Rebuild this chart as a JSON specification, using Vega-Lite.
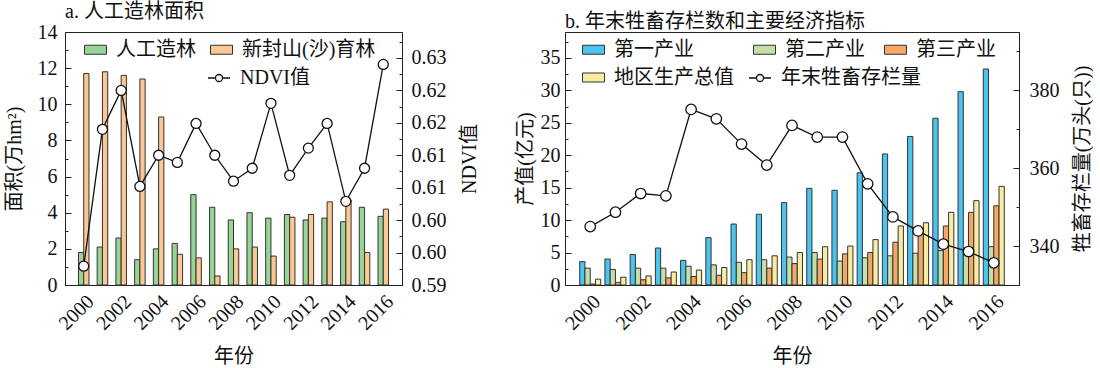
{
  "$schema": "https://vega.github.io/schema/vega-lite/v6.json",
  "background": "white",
  "padding": {"left": 3, "top": 1, "right": 0, "bottom": 0},
  "bounds": "flush",
  "spacing": 163,
  "resolve": {"scale": {"fill": "independent", "stroke": "independent", "xOffset": "independent", "x": "independent", "y": "independent"}},
  "config": {
    "font": "Liberation Serif, Noto Sans CJK SC",
    "view": {"stroke": "#222", "strokeWidth": 1},
    "axis": {
      "labelFont": "Liberation Serif, Noto Sans CJK SC",
      "labelFontSize": 20,
      "labelColor": "#111",
      "titleFont": "Liberation Serif, Noto Sans CJK SC",
      "titleFontSize": 20,
      "titleFontWeight": "normal",
      "titleColor": "#111",
      "domainColor": "#222",
      "tickColor": "#222",
      "grid": false,
      "labelOverlap": false
    },
    "legend": {
      "labelFont": "Liberation Serif, Noto Sans CJK SC",
      "labelFontSize": 20,
      "labelColor": "#111",
      "labelLimit": 300
    },
    "title": {
      "font": "Liberation Serif, Noto Sans CJK SC",
      "fontSize": 20,
      "fontWeight": "normal",
      "anchor": "start",
      "frame": "group",
      "color": "#111"
    }
  },
  "datasets": {
    "forest": [
      {"year": 2000, "type": "人工造林", "value": 1.8}, {"year": 2000, "type": "新封山(沙)育林", "value": 11.7},
      {"year": 2001, "type": "人工造林", "value": 2.1}, {"year": 2001, "type": "新封山(沙)育林", "value": 11.8},
      {"year": 2002, "type": "人工造林", "value": 2.6}, {"year": 2002, "type": "新封山(沙)育林", "value": 11.6},
      {"year": 2003, "type": "人工造林", "value": 1.4}, {"year": 2003, "type": "新封山(沙)育林", "value": 11.4},
      {"year": 2004, "type": "人工造林", "value": 2.0}, {"year": 2004, "type": "新封山(沙)育林", "value": 9.3},
      {"year": 2005, "type": "人工造林", "value": 2.3}, {"year": 2005, "type": "新封山(沙)育林", "value": 1.7},
      {"year": 2006, "type": "人工造林", "value": 5.0}, {"year": 2006, "type": "新封山(沙)育林", "value": 1.5},
      {"year": 2007, "type": "人工造林", "value": 4.3}, {"year": 2007, "type": "新封山(沙)育林", "value": 0.5},
      {"year": 2008, "type": "人工造林", "value": 3.6}, {"year": 2008, "type": "新封山(沙)育林", "value": 2.0},
      {"year": 2009, "type": "人工造林", "value": 4.0}, {"year": 2009, "type": "新封山(沙)育林", "value": 2.1},
      {"year": 2010, "type": "人工造林", "value": 3.7}, {"year": 2010, "type": "新封山(沙)育林", "value": 1.6},
      {"year": 2011, "type": "人工造林", "value": 3.9}, {"year": 2011, "type": "新封山(沙)育林", "value": 3.75},
      {"year": 2012, "type": "人工造林", "value": 3.6}, {"year": 2012, "type": "新封山(沙)育林", "value": 3.9},
      {"year": 2013, "type": "人工造林", "value": 3.7}, {"year": 2013, "type": "新封山(沙)育林", "value": 4.6},
      {"year": 2014, "type": "人工造林", "value": 3.5}, {"year": 2014, "type": "新封山(沙)育林", "value": 4.7},
      {"year": 2015, "type": "人工造林", "value": 4.3}, {"year": 2015, "type": "新封山(沙)育林", "value": 1.8},
      {"year": 2016, "type": "人工造林", "value": 3.8}, {"year": 2016, "type": "新封山(沙)育林", "value": 4.2}
    ],
    "ndvi": [
      {"year": 2000, "ndvi": 0.5929}, {"year": 2001, "ndvi": 0.6140}, {"year": 2002, "ndvi": 0.6200},
      {"year": 2003, "ndvi": 0.6052}, {"year": 2004, "ndvi": 0.6100}, {"year": 2005, "ndvi": 0.6089},
      {"year": 2006, "ndvi": 0.6149}, {"year": 2007, "ndvi": 0.6100}, {"year": 2008, "ndvi": 0.6060},
      {"year": 2009, "ndvi": 0.6080}, {"year": 2010, "ndvi": 0.6180}, {"year": 2011, "ndvi": 0.6069},
      {"year": 2012, "ndvi": 0.6111}, {"year": 2013, "ndvi": 0.6149}, {"year": 2014, "ndvi": 0.6029},
      {"year": 2015, "ndvi": 0.6080}, {"year": 2016, "ndvi": 0.6240}
    ],
    "econ": [
      {"year": 2000, "type": "第一产业", "value": 3.6}, {"year": 2000, "type": "第二产业", "value": 2.6}, {"year": 2000, "type": "第三产业", "value": 0.15}, {"year": 2000, "type": "地区生产总值", "value": 0.9},
      {"year": 2001, "type": "第一产业", "value": 4.0}, {"year": 2001, "type": "第二产业", "value": 2.4}, {"year": 2001, "type": "第三产业", "value": 0.4}, {"year": 2001, "type": "地区生产总值", "value": 1.2},
      {"year": 2002, "type": "第一产业", "value": 4.7}, {"year": 2002, "type": "第二产业", "value": 2.6}, {"year": 2002, "type": "第三产业", "value": 0.8}, {"year": 2002, "type": "地区生产总值", "value": 1.4},
      {"year": 2003, "type": "第一产业", "value": 5.7}, {"year": 2003, "type": "第二产业", "value": 2.6}, {"year": 2003, "type": "第三产业", "value": 1.1}, {"year": 2003, "type": "地区生产总值", "value": 2.0},
      {"year": 2004, "type": "第一产业", "value": 3.8}, {"year": 2004, "type": "第二产业", "value": 2.9}, {"year": 2004, "type": "第三产业", "value": 1.3}, {"year": 2004, "type": "地区生产总值", "value": 2.3},
      {"year": 2005, "type": "第一产业", "value": 7.3}, {"year": 2005, "type": "第二产业", "value": 3.1}, {"year": 2005, "type": "第三产业", "value": 1.5}, {"year": 2005, "type": "地区生产总值", "value": 2.7},
      {"year": 2006, "type": "第一产业", "value": 9.4}, {"year": 2006, "type": "第二产业", "value": 3.5}, {"year": 2006, "type": "第三产业", "value": 1.9}, {"year": 2006, "type": "地区生产总值", "value": 3.9},
      {"year": 2007, "type": "第一产业", "value": 10.9}, {"year": 2007, "type": "第二产业", "value": 3.9}, {"year": 2007, "type": "第三产业", "value": 2.6}, {"year": 2007, "type": "地区生产总值", "value": 4.5},
      {"year": 2008, "type": "第一产业", "value": 12.7}, {"year": 2008, "type": "第二产业", "value": 4.3}, {"year": 2008, "type": "第三产业", "value": 3.3}, {"year": 2008, "type": "地区生产总值", "value": 5.0},
      {"year": 2009, "type": "第一产业", "value": 14.9}, {"year": 2009, "type": "第二产业", "value": 5.0}, {"year": 2009, "type": "第三产业", "value": 4.0}, {"year": 2009, "type": "地区生产总值", "value": 5.9},
      {"year": 2010, "type": "第一产业", "value": 14.6}, {"year": 2010, "type": "第二产业", "value": 3.7}, {"year": 2010, "type": "第三产业", "value": 4.8}, {"year": 2010, "type": "地区生产总值", "value": 6.0},
      {"year": 2011, "type": "第一产业", "value": 17.3}, {"year": 2011, "type": "第二产业", "value": 4.2}, {"year": 2011, "type": "第三产业", "value": 5.0}, {"year": 2011, "type": "地区生产总值", "value": 7.0},
      {"year": 2012, "type": "第一产业", "value": 20.2}, {"year": 2012, "type": "第二产业", "value": 4.5}, {"year": 2012, "type": "第三产业", "value": 6.6}, {"year": 2012, "type": "地区生产总值", "value": 9.1},
      {"year": 2013, "type": "第一产业", "value": 22.9}, {"year": 2013, "type": "第二产业", "value": 4.9}, {"year": 2013, "type": "第三产业", "value": 8.6}, {"year": 2013, "type": "地区生产总值", "value": 9.6},
      {"year": 2014, "type": "第一产业", "value": 25.7}, {"year": 2014, "type": "第二产业", "value": 5.3}, {"year": 2014, "type": "第三产业", "value": 9.1}, {"year": 2014, "type": "地区生产总值", "value": 11.2},
      {"year": 2015, "type": "第一产业", "value": 29.8}, {"year": 2015, "type": "第二产业", "value": 5.6}, {"year": 2015, "type": "第三产业", "value": 11.2}, {"year": 2015, "type": "地区生产总值", "value": 13.0},
      {"year": 2016, "type": "第一产业", "value": 33.3}, {"year": 2016, "type": "第二产业", "value": 5.9}, {"year": 2016, "type": "第三产业", "value": 12.2}, {"year": 2016, "type": "地区生产总值", "value": 15.2}
    ],
    "livestock": [
      {"year": 2000, "count": 345.0}, {"year": 2001, "count": 348.7}, {"year": 2002, "count": 353.5},
      {"year": 2003, "count": 352.9}, {"year": 2004, "count": 375.1}, {"year": 2005, "count": 372.7},
      {"year": 2006, "count": 366.2}, {"year": 2007, "count": 360.8}, {"year": 2008, "count": 371.0},
      {"year": 2009, "count": 368.0}, {"year": 2010, "count": 368.0}, {"year": 2011, "count": 356.0},
      {"year": 2012, "count": 347.5}, {"year": 2013, "count": 343.9}, {"year": 2014, "count": 340.5},
      {"year": 2015, "count": 338.6}, {"year": 2016, "count": 335.7}
    ]
  },
  "hconcat": [
    {
      "width": 337,
      "height": 253,
      "title": {"text": "a. 人工造林面积", "offset": 0},
      "encoding": {
        "x": {
          "field": "year", "type": "ordinal", "title": "年份",
          "scale": {"type": "band", "paddingInner": 0, "paddingOuter": 0.5},
          "axis": {"labelAngle": -45, "labelExpr": "datum.value % 2 === 0 ? datum.label : ''", "ticks": false, "labelPadding": 6, "titlePadding": 13}
        }
      },
      "layer": [
        {
          "data": {"name": "forest"},
          "mark": {"type": "bar", "stroke": "#333", "strokeWidth": 1},
          "encoding": {
            "xOffset": {"field": "type", "sort": ["人工造林", "新封山(沙)育林"], "scale": {"paddingInner": 0, "paddingOuter": 0.78}},
            "y": {
              "field": "value", "type": "quantitative", "title": "面积(万hm²)",
              "scale": {"domain": [0, 14], "nice": false},
              "axis": {
                "values": [0,1,2,3,4,5,6,7,8,9,10,11,12,13,14],
                "labelExpr": "datum.value % 2 === 0 ? datum.label : ''",
                "tickSize": {"condition": {"test": "datum.value % 2 === 0", "value": -6}, "value": -3},
                "labelPadding": 14, "titlePadding": 13
              }
            },
            "fill": {
              "field": "type", "type": "nominal",
              "scale": {"domain": ["人工造林", "新封山(沙)育林"], "range": ["#96D596", "#FBC793"]},
              "legend": {
                "orient": "none", "legendX": 19, "legendY": 6, "title": null,
                "direction": "horizontal", "columns": 2, "columnPadding": 12, "rowPadding": 6,
                "symbolType": "M-1,-0.41H1V0.41H-1Z", "symbolSize": 484,
                "symbolStrokeColor": "#333", "symbolStrokeWidth": 1, "labelOffset": 9
              }
            }
          }
        },
        {
          "data": {"name": "ndvi"},
          "encoding": {
            "y": {
              "field": "ndvi", "type": "quantitative", "title": "NDVI值",
              "scale": {"domain": [0.59, 0.629], "nice": false, "zero": false},
              "axis": {
                "orient": "right",
                "values": [0.59,0.5925,0.595,0.5975,0.6,0.6025,0.605,0.6075,0.61,0.6125,0.615,0.6175,0.62,0.6225,0.625,0.6275],
                "labelExpr": "abs(datum.value*200 - round(datum.value*200)) < 0.001 ? format(datum.value + 0.0001, '.2f') : ''",
                "tickSize": {"condition": {"test": "abs(datum.value*200 - round(datum.value*200)) < 0.001", "value": -6}, "value": -3},
                "labelPadding": 15, "titlePadding": 13, "titleAngle": 270, "titleBaseline": "top"
              }
            }
          },
          "layer": [
            {
              "mark": {"type": "line", "strokeWidth": 1.3},
              "encoding": {
                "stroke": {
                  "datum": "NDVI值",
                  "scale": {"range": ["#111"]},
                  "legend": {
                    "orient": "none", "legendX": 142, "legendY": 34, "title": null,
                    "symbolType": "M-1,0H-0.32M0.32,0H1M0.32,0A0.32,0.32,0,1,1,-0.32,0A0.32,0.32,0,1,1,0.32,0",
                    "symbolSize": 484, "symbolStrokeWidth": 1.3, "symbolFillColor": "white", "labelOffset": 9,
                    "encode": {"symbols": {"update": {"fill": {"value": "white"}, "stroke": {"value": "#111"}}}}
                  }
                }
              }
            },
            {
              "mark": {"type": "point", "filled": true, "fill": "white", "stroke": "#111", "strokeWidth": 1.3, "size": 100, "opacity": 1}
            }
          ]
        }
      ],
      "resolve": {"scale": {"y": "independent"}}
    },
    {
      "width": 454,
      "height": 253,
      "title": {"text": "b. 年末牲畜存栏数和主要经济指标", "offset": 0},
      "encoding": {
        "x": {
          "field": "year", "type": "ordinal", "title": "年份",
          "scale": {"type": "band", "paddingInner": 0, "paddingOuter": 0.5},
          "axis": {"labelAngle": -45, "labelExpr": "datum.value % 2 === 0 ? datum.label : ''", "ticks": false, "labelPadding": 6, "titlePadding": 13}
        }
      },
      "layer": [
        {
          "data": {"name": "econ"},
          "mark": {"type": "bar", "stroke": "#333", "strokeWidth": 1},
          "encoding": {
            "xOffset": {"field": "type", "sort": ["第一产业", "第二产业", "第三产业", "地区生产总值"], "scale": {"paddingInner": 0, "paddingOuter": 0.4}},
            "y": {
              "field": "value", "type": "quantitative", "title": "产值(亿元)",
              "scale": {"domain": [0, 39], "nice": false},
              "axis": {
                "values": [0,2.5,5,7.5,10,12.5,15,17.5,20,22.5,25,27.5,30,32.5,35,37.5],
                "labelExpr": "datum.value % 5 === 0 ? datum.label : ''",
                "tickSize": {"condition": {"test": "datum.value % 5 === 0", "value": -6}, "value": -3},
                "labelPadding": 11, "titlePadding": 5
              }
            },
            "fill": {
              "field": "type", "type": "nominal",
              "scale": {"domain": ["第一产业", "第二产业", "第三产业", "地区生产总值"], "range": ["#4CC4F0", "#C4DFA8", "#F5A866", "#F8ECA3"]},
              "legend": {
                "orient": "none", "legendX": 17, "legendY": 6, "title": null,
                "direction": "horizontal", "columns": 3, "columnPadding": 17, "rowPadding": 6,
                "symbolType": "M-1,-0.41H1V0.41H-1Z", "symbolSize": 484,
                "symbolStrokeColor": "#333", "symbolStrokeWidth": 1, "labelOffset": 9
              }
            }
          }
        },
        {
          "data": {"name": "livestock"},
          "encoding": {
            "y": {
              "field": "count", "type": "quantitative", "title": "牲畜存栏量(万头(只))",
              "scale": {"domain": [330, 395], "nice": false, "zero": false},
              "axis": {
                "orient": "right",
                "values": [330,340,350,360,370,380,390],
                "labelExpr": "datum.value % 20 === 0 ? datum.label : ''",
                "tickSize": {"condition": {"test": "datum.value % 20 === 0", "value": -6}, "value": -3},
                "labelPadding": 16, "titlePadding": 13, "titleAngle": 270, "titleBaseline": "top"
              }
            }
          },
          "layer": [
            {
              "mark": {"type": "line", "strokeWidth": 1.3},
              "encoding": {
                "stroke": {
                  "datum": "年末牲畜存栏量",
                  "scale": {"range": ["#111"]},
                  "legend": {
                    "orient": "none", "legendX": 183, "legendY": 34, "title": null,
                    "symbolType": "M-1,0H-0.32M0.32,0H1M0.32,0A0.32,0.32,0,1,1,-0.32,0A0.32,0.32,0,1,1,0.32,0",
                    "symbolSize": 484, "symbolStrokeWidth": 1.3, "symbolFillColor": "white", "labelOffset": 9,
                    "encode": {"symbols": {"update": {"fill": {"value": "white"}, "stroke": {"value": "#111"}}}}
                  }
                }
              }
            },
            {
              "mark": {"type": "point", "filled": true, "fill": "white", "stroke": "#111", "strokeWidth": 1.3, "size": 110, "opacity": 1}
            }
          ]
        }
      ],
      "resolve": {"scale": {"y": "independent"}}
    }
  ]
}
